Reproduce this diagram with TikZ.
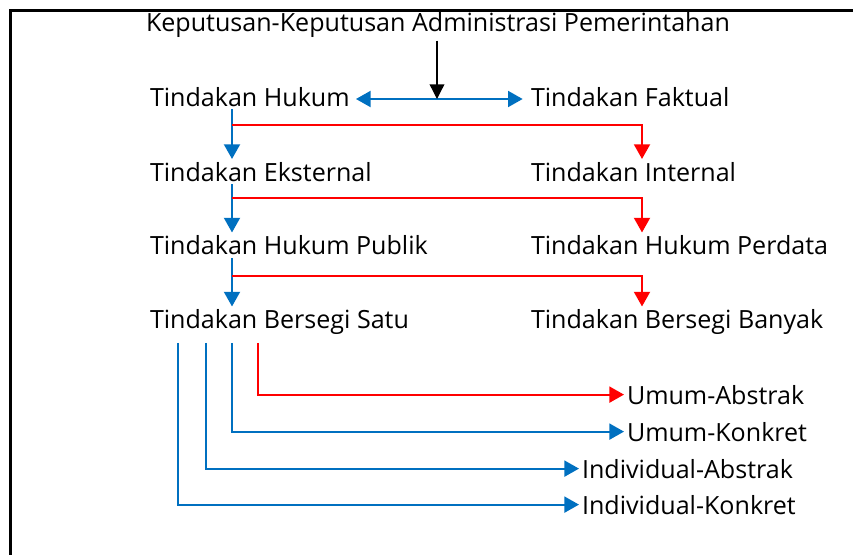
\documentclass[tikz,border=0pt]{standalone}
\usepackage{fontspec}
\setmainfont{Open Sans}
\usetikzlibrary{arrows.meta}

\definecolor{lineblue}{RGB}{0,112,192}
\definecolor{linered}{RGB}{255,0,0}

\tikzset{every picture/.style={line width=1.5pt}}
\tikzset{
  label text/.style={anchor=base west,inner sep=1.5pt,font=\fontsize{18.8}{22}\selectfont},
  tri tip/.style={-{Triangle[length=11pt,width=12pt]}},
  blue tip/.style={draw=lineblue,tri tip},
  red tip/.style={draw=linered,tri tip},
  blue both/.style={draw=lineblue,{Triangle[length=11pt,width=12pt]}-{Triangle[length=11pt,width=12pt]}},
  black tip/.style={draw=black,line width=1pt,-{Triangle[length=11pt,width=11pt]}}
}

\begin{document}
\begin{tikzpicture}[x=0.75pt,y=0.75pt,yscale=-1,xscale=1]
        \useasboundingbox (0,0) rectangle (853,554);
        \clip (0,0) rectangle (853,554);

        %Shape: Frame
        \draw [line width=2.25pt] (10.5,10) rectangle (880,580);

        % Text Node
        \draw (143,31.7) node [label text] (title) {Keputusan-Keputusan Administrasi Pemerintahan};
        % Text Node
        \draw (147,106) node [label text] (hukum) {Tindakan Hukum};
        % Text Node
        \draw (528,106) node [label text] (faktual) {Tindakan Faktual};
        % Text Node
        \draw (147,181) node [label text] (eksternal) {Tindakan Eksternal};
        % Text Node
        \draw (528,181) node [label text] (internal) {Tindakan Internal};
        % Text Node
        \draw (147,254.5) node [label text] (publik) {Tindakan Hukum Publik};
        % Text Node
        \draw (528,254.5) node [label text] (perdata) {Tindakan Hukum Perdata};
        % Text Node
        \draw (147,328.5) node [label text] (satu) {Tindakan Bersegi Satu};
        % Text Node
        \draw (528,328.5) node [label text] (banyak) {Tindakan Bersegi Banyak};
        % Text Node
        \draw (624,404) node [label text] (umumabs) {Umum-Abstrak};
        % Text Node
        \draw (624,441) node [label text] (umumkon) {Umum-Konkret};
        % Text Node
        \draw (579,478) node [label text] (indabs) {Individual-Abstrak};
        % Text Node
        \draw (579,514) node [label text] (indkon) {Individual-Konkret};

        % Branch points
        \coordinate (fork) at (437,99);
        \coordinate (trunk) at (232,0);
        \coordinate (redcol) at (642,0);
        \coordinate (split1) at (232,125);
        \coordinate (split2) at (232,198);
        \coordinate (split3) at (232,275.5);
        \coordinate (leg1) at (178,0);
        \coordinate (leg2) at (206,0);
        \coordinate (leg4) at (258,0);

        %Straight Lines: top split
        \draw [blue both,shorten <=2.5pt,shorten >=4pt] (hukum.east |- fork) -- (faktual.west |- fork);
        \draw [black tip] (title.south -| fork) -- (fork);
        %Straight Lines: blue trunk
        \draw [blue tip] (hukum.south -| trunk) -- (eksternal.north -| trunk);
        \draw [blue tip] (eksternal.south -| trunk) -- (publik.north -| trunk);
        \draw [blue tip] (publik.south -| trunk) -- (satu.north -| trunk);
        %Straight Lines: red branches
        \draw [red tip] (split1) -| (internal.north -| redcol);
        \draw [red tip] (split2) -| (perdata.north -| redcol);
        \draw [red tip] (split3) -| (banyak.north -| redcol);
        %Straight Lines: legs
        \draw [red tip,shorten <=4pt] (satu.south -| leg4) |- (umumabs.west);
        \draw [blue tip,shorten <=4pt] (satu.south -| trunk) |- (umumkon.west);
        \draw [blue tip,shorten <=4pt] (satu.south -| leg2) |- (indabs.west);
        \draw [blue tip,shorten <=4pt] (satu.south -| leg1) |- (indkon.west);

\end{tikzpicture}
\end{document}
